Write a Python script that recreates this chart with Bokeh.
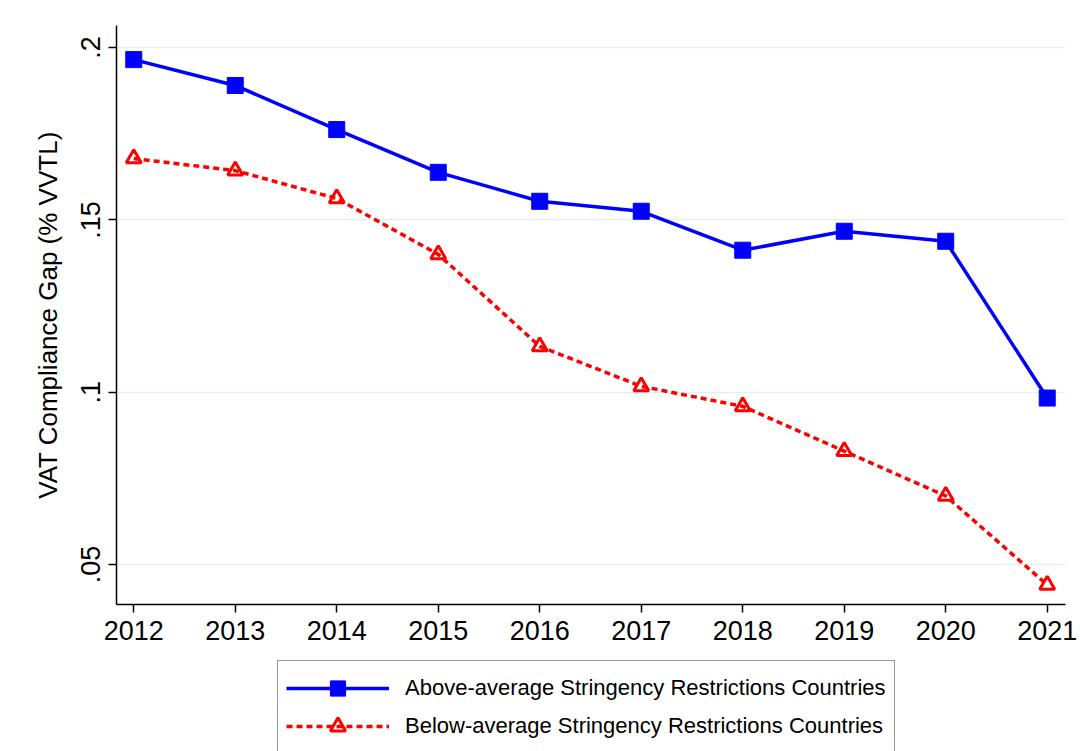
from bokeh.plotting import figure
from bokeh.layouts import column
from bokeh.models import Range1d, FixedTicker, CustomJSTickFormatter, Legend, LegendItem
from bokeh.embed import file_html
from bokeh.resources import INLINE

years = [2012, 2013, 2014, 2015, 2016, 2017, 2018, 2019, 2020, 2021]
above = [0.1965, 0.1890, 0.1762, 0.1638, 0.1554, 0.1525, 0.1412, 0.1467, 0.1438, 0.0983]
below = [0.1678, 0.1643, 0.1562, 0.1400, 0.1133, 0.1017, 0.0959, 0.0829, 0.0699, 0.0441]
y_ticks = [0.05, 0.10, 0.15, 0.20]
label_above = "Above-average Stringency Restrictions Countries"
label_below = "Below-average Stringency Restrictions Countries"
y_title = "VAT Compliance Gap (% VVTL)"

FONT = "Liberation Sans"
BLUE = "#0000ff"
RED = "#ff0000"

# ---------- main chart ----------
p = figure(width=1080, height=650, output_backend="svg", toolbar_location=None,
           x_range=Range1d(2011.83, 2021.18), y_range=Range1d(0.0384, 0.2064),
           min_border_left=116, min_border_right=15, min_border_top=25, min_border_bottom=46)
p.outline_line_color = None
p.background_fill_color = "white"
p.border_fill_color = "white"

p.xgrid.grid_line_color = None
p.ygrid.grid_line_color = "#e6eef1"
p.ygrid.grid_line_width = 1.5

p.xaxis.ticker = FixedTicker(ticks=years)
p.yaxis.ticker = FixedTicker(ticks=y_ticks)
p.yaxis.formatter = CustomJSTickFormatter(code="""
let s = tick.toFixed(2);
s = s.replace(/^0/, '');
s = s.replace(/0$/, '');
return s;
""")
for ax in (p.xaxis[0], p.yaxis[0]):
    ax.axis_line_color = "black"
    ax.axis_line_width = 1.5
    ax.major_tick_line_color = "black"
    ax.major_tick_line_width = 1.5
    ax.major_tick_out = 8
    ax.major_tick_in = 0
    ax.minor_tick_line_color = None
    ax.major_label_text_font = FONT
    ax.major_label_text_font_size = "27px"
    ax.major_label_text_color = "black"
p.xaxis.major_label_standoff = 8
p.yaxis.major_label_orientation = "vertical"
p.yaxis.major_label_standoff = 8
p.yaxis.axis_label = y_title
p.yaxis.axis_label_text_font = FONT
p.yaxis.axis_label_text_font_size = "26px"
p.yaxis.axis_label_text_font_style = "normal"
p.yaxis.axis_label_text_color = "black"
p.yaxis.axis_label_standoff = 16

p.line(years, above, line_color=BLUE, line_width=3.5)
p.scatter(years, above, marker="square", size=16, fill_color=BLUE, line_color=BLUE)
p.line(years, below, line_color=RED, line_width=3.5, line_dash="6 4")
p.scatter(years, below, marker="triangle", size=15, fill_color=None, line_color=RED, line_width=3)

# ---------- legend strip (proxy renderers kept outside the visible range) ----------
lg = figure(width=1080, height=101, output_backend="svg", toolbar_location=None,
            x_range=Range1d(0, 1), y_range=Range1d(0, 1),
            x_axis_location=None, y_axis_location=None,
            min_border_left=0, min_border_right=0, min_border_top=0, min_border_bottom=0)
lg.grid.visible = False
lg.outline_line_color = None
lg.background_fill_color = "white"
lg.border_fill_color = "white"
k1 = lg.line(years, above, line_color=BLUE, line_width=3.5)
k1s = lg.scatter(years, above, marker="square", size=16, fill_color=BLUE, line_color=BLUE)
k2 = lg.line(years, below, line_color=RED, line_width=3.5, line_dash="6 4")
k2s = lg.scatter(years, below, marker="triangle", size=15, fill_color=None, line_color=RED, line_width=3)

legend = Legend(items=[LegendItem(label=label_above, renderers=[k1, k1s]),
                       LegendItem(label=label_below, renderers=[k2, k2s])],
                location=(161, -3), orientation="vertical")
legend.label_text_font = FONT
legend.label_text_font_size = "22px"
legend.label_text_color = "black"
legend.glyph_width = 103
legend.glyph_height = 38
legend.label_standoff = 16
legend.spacing = 0
legend.padding = 8
legend.margin = 0
legend.border_line_color = "#333333"
legend.border_line_width = 1.2
legend.background_fill_color = "white"
lg.add_layout(legend, "center")

layout = column(p, lg, spacing=0)
open("out.html", "w").write(file_html(layout, INLINE))
